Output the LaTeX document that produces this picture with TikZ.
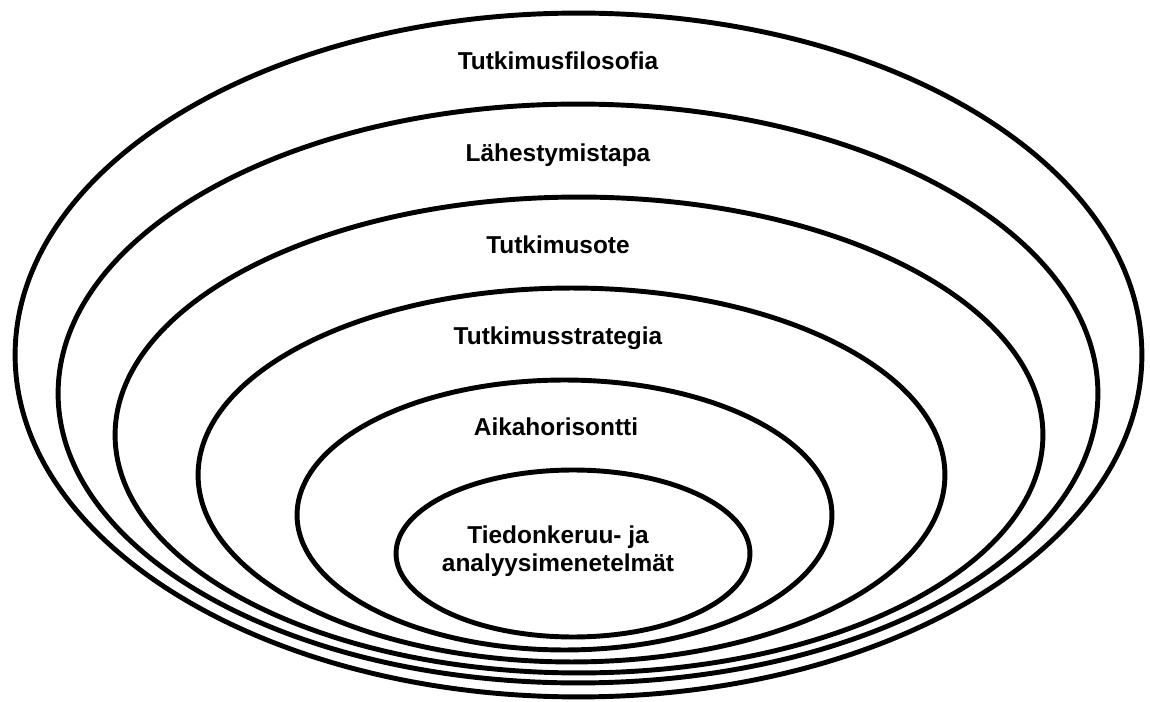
\documentclass[tikz,border=0pt]{standalone}
\usepackage{fontspec}
\setmainfont{Liberation Sans}
\begin{document}
\begin{tikzpicture}[x=0.02cm,y=-0.02cm,
  ring/.style={draw=black,line width=2.8pt},
  lbl/.style={font=\bfseries\fontsize{13.9}{15.8}\selectfont,inner sep=0pt,align=center}]
\useasboundingbox (0,0) rectangle (1150,702);
\fill[white] (0,0) rectangle (1150,702);
% rings
\draw[ring] (578.5,355) ellipse [x radius=11.27cm, y radius=6.84cm];
\draw[ring] (578,393.5) ellipse [x radius=10.40cm, y radius=5.79cm];
\draw[ring] (579,435) ellipse [x radius=9.28cm, y radius=4.76cm];
\draw[ring] (571.5,475) ellipse [x radius=7.47cm, y radius=3.74cm];
\draw[ring] (564.5,515) ellipse [x radius=5.35cm, y radius=2.70cm];
\draw[ring] (573,553.5) ellipse [x radius=3.54cm, y radius=1.67cm];
% labels
\node[lbl,anchor=base] (l1) at (558,70) {Tutkimusfilosofia};
\node[lbl,anchor=base] (l2) at (558,162) {Lähestymistapa};
\node[lbl,anchor=base] (l3) at (558,254) {Tutkimusote};
\node[lbl,anchor=base] (l4) at (558,345) {Tutkimusstrategia};
\node[lbl,anchor=base] (l5) at (556,436) {Aikahorisontti};
\node[lbl] (l6) at (558,551) {Tiedonkeruu- ja\\analyysimenetelmät};
\end{tikzpicture}
\end{document}
